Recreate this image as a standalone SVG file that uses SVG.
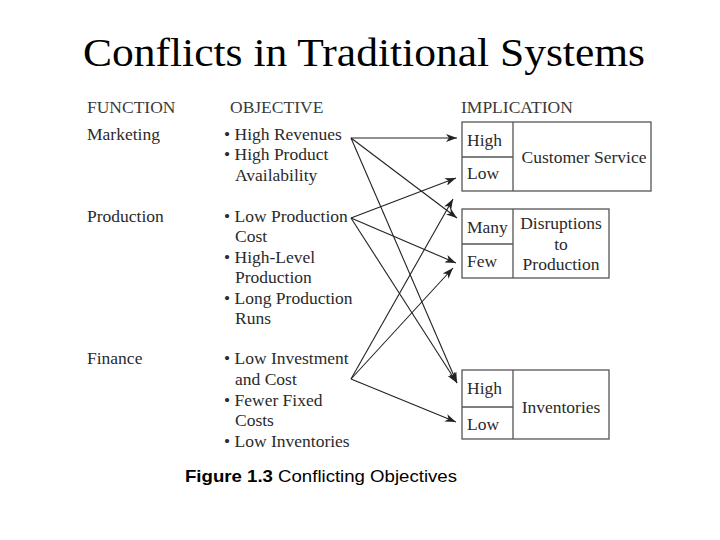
<svg xmlns="http://www.w3.org/2000/svg" width="720" height="540" viewBox="0 0 720 540">
<defs>
<marker id="ah" markerUnits="userSpaceOnUse" markerWidth="12" markerHeight="8" refX="11" refY="4" orient="auto">
<path d="M0,0 L11,4 L0,8 L3,4 z" fill="#222"/>
</marker>
<style>
.t{font-family:"Liberation Serif","Times New Roman",serif;font-size:17.5px;fill:#2a2a2a}
.h{font-family:"Liberation Serif","Times New Roman",serif;font-size:17.5px;fill:#3a3a3a}
.box{fill:#fff;stroke:#555;stroke-width:1.3}
.div{stroke:#555;stroke-width:1.3}
.ar{stroke:#222;stroke-width:1.1;fill:none;marker-end:url(#ah)}
</style>
</defs>
<rect width="720" height="540" fill="#fff"/>
<text x="83" y="66" textLength="562" lengthAdjust="spacingAndGlyphs" font-family="Liberation Serif,Times New Roman,serif" font-size="40" fill="#000">Conflicts in Traditional Systems</text>
<g id="headers">
<text class="h" x="87" y="113">FUNCTION</text>
<text class="h" x="230" y="113">OBJECTIVE</text>
<text class="h" x="461" y="113">IMPLICATION</text>
</g>
<g id="functions">
<text class="t" x="87" y="140">Marketing</text>
<text class="t" x="87" y="222">Production</text>
<text class="t" x="87" y="364">Finance</text>
</g>
<g id="obj-marketing">
<text class="t" x="224" y="140">• High Revenues</text>
<text class="t" x="224" y="160">• High Product</text>
<text class="t" x="235" y="181">Availability</text>
</g>
<g id="obj-production">
<text class="t" x="224" y="222">• Low Production</text>
<text class="t" x="235" y="242">Cost</text>
<text class="t" x="224" y="263">• High-Level</text>
<text class="t" x="235" y="283">Production</text>
<text class="t" x="224" y="304">• Long Production</text>
<text class="t" x="235" y="324">Runs</text>
</g>
<g id="obj-finance">
<text class="t" x="224" y="364">• Low Investment</text>
<text class="t" x="235" y="385">and Cost</text>
<text class="t" x="224" y="406">• Fewer Fixed</text>
<text class="t" x="235" y="426">Costs</text>
<text class="t" x="224" y="447">• Low Inventories</text>
</g>
<g id="box-customer-service">
<rect class="box" x="462" y="122" width="189" height="69"/>
<line class="div" x1="513" y1="122" x2="513" y2="191"/>
<line class="div" x1="462" y1="157" x2="513" y2="157"/>
<text class="t" x="467" y="146">High</text>
<text class="t" x="467" y="179">Low</text>
<text class="t" x="584" y="163" text-anchor="middle">Customer Service</text>
</g>
<g id="box-disruptions">
<rect class="box" x="462" y="209" width="147" height="69"/>
<line class="div" x1="513" y1="209" x2="513" y2="278"/>
<line class="div" x1="462" y1="244" x2="513" y2="244"/>
<text class="t" x="467" y="233">Many</text>
<text class="t" x="467" y="267">Few</text>
<text class="t" x="561" y="229" text-anchor="middle">Disruptions</text>
<text class="t" x="561" y="250" text-anchor="middle">to</text>
<text class="t" x="561" y="270" text-anchor="middle">Production</text>
</g>
<g id="box-inventories">
<rect class="box" x="462" y="370" width="147" height="69"/>
<line class="div" x1="513" y1="370" x2="513" y2="439"/>
<line class="div" x1="462" y1="407" x2="513" y2="407"/>
<text class="t" x="467" y="394">High</text>
<text class="t" x="467" y="430">Low</text>
<text class="t" x="561" y="413" text-anchor="middle">Inventories</text>
</g>
<g id="connectors">
<line class="ar" x1="351" y1="138" x2="457" y2="138"/>
<line class="ar" x1="351" y1="138" x2="457" y2="218"/>
<line class="ar" x1="351" y1="138" x2="457" y2="383"/>
<line class="ar" x1="351" y1="218" x2="456" y2="178"/>
<line class="ar" x1="351" y1="218" x2="456" y2="263"/>
<line class="ar" x1="351" y1="218" x2="457" y2="383"/>
<line class="ar" x1="351" y1="379" x2="453" y2="199"/>
<line class="ar" x1="351" y1="379" x2="453" y2="268"/>
<line class="ar" x1="351" y1="379" x2="456" y2="422"/>
</g>
<text x="185" y="482" textLength="272" lengthAdjust="spacingAndGlyphs" font-family="Liberation Sans,Arial,sans-serif" font-size="17" fill="#000"><tspan font-weight="bold">Figure 1.3</tspan> Conflicting Objectives</text>
</svg>
